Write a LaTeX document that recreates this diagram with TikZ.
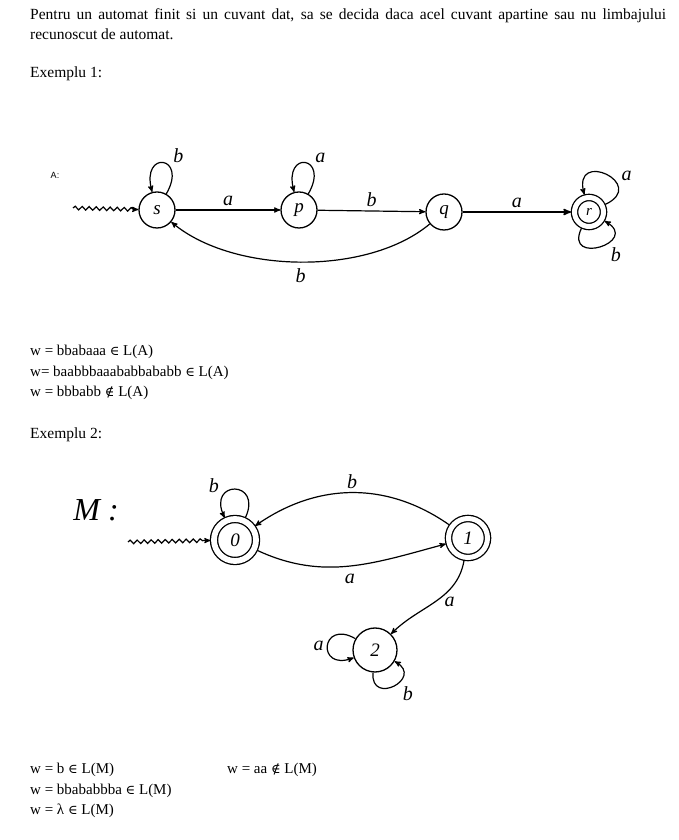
\documentclass[tikz,border=0pt]{standalone}
\usepackage{fontspec}
\setmainfont{Liberation Serif}
\newfontfamily\labelfont{Liberation Sans}
\newfontfamily\relfont{DejaVu Serif}
\usetikzlibrary{arrows}
\usetikzlibrary{decorations.pathmorphing}
\usetikzlibrary{positioning}
\tikzset{state/.style={circle,draw=black,line width=1.3pt,minimum size=36pt,inner sep=0pt,font=\fontsize{19}{19}\selectfont\itshape}}
\tikzset{final/.style={state,double,double distance=5pt,outer sep=3.5pt}}
\tikzset{trans/.style={->,>=stealth',line width=1.2pt}}
\tikzset{startarr/.style={->,>=stealth',line width=1.2pt,decorate,decoration={snake,amplitude=1.8pt,segment length=7pt,post length=5pt}}}
\tikzset{hand/.style={font=\fontsize{20}{20}\selectfont\itshape}}
\tikzset{txt/.style={anchor=base west,inner sep=0pt,font=\fontsize{15.5}{20}\selectfont}}
\tikzset{formula/.style={anchor=base west,inner sep=0pt,font=\fontsize{15}{20}\selectfont}}
\newcommand{\inL}{{\relfont\fontsize{13}{13}\selectfont ∈}}
\newcommand{\ninL}{{\relfont\fontsize{13}{13}\selectfont ∉}}

\begin{document}
\begin{tikzpicture}[x=1pt,y=1pt]
\useasboundingbox (0,0) rectangle (679,840);

\node[txt,anchor=north west,text width=636pt,align=justify] (intro) at (30,832)
  {Pentru un automat finit si un cuvant dat, sa se decida daca acel cuvant apartine sau nu limbajului \mbox{recunoscut} de automat.};
\node[txt] (ex1) at (30,762) {Exemplu 1:};

% automatul A
\node[font=\labelfont\small] (nA) at (55,665) {A:};
\node[state] (s) at (157,630) {s};
\node[state] (p) at (299,630) {p};
\node[state] (q) at (444,628) {q};
\node[final,minimum size=29pt,font=\fontsize{15}{15}\selectfont\itshape] (r) at (589,628) {r};

\coordinate (inA) at (73,632);
\draw[startarr] (inA) -- (s);
\draw[trans] (s) to[out=60,in=105,distance=44pt] node[hand,pos=0.35,above right] {b} (s);
\draw[trans] (s) -- node[hand,above] {a} (p);
\draw[trans] (p) to[out=60,in=105,distance=44pt] node[hand,pos=0.35,above right] {a} (p);
\draw[trans] (p) -- node[hand,above] {b} (q);
\draw[trans,line width=1.6pt] (q) -- node[hand,above] {a} (r);
\draw[trans] (r) to[out=25,in=105,distance=48pt] node[hand,pos=0.3,above right] {a} (r);
\draw[trans] (r) to[out=-115,in=-30,distance=42pt] node[hand,pos=0.6,below right] {b} (r);
\draw[trans] (q) to[out=-140,in=-40,looseness=0.8] node[hand,below=3pt] {b} (s);

\node[formula] (wA1) at (30,484) {w = bbabaaa \inL{} L(A)};
\node[formula] (wA2) at (30,463) {w= baabbbaaababbababb \inL{} L(A)};
\node[formula] (wA3) at (30,443) {w = bbbabb \ninL{} L(A)};
\node[txt] (ex2) at (30,401) {Exemplu 2:};

% automatul M
\node[font=\fontsize{32}{32}\selectfont\itshape] (nM) at (96,330) {M :};
\node[final,minimum size=42pt,double distance=5.8pt] (n0) at (235,300) {0};
\node[final,minimum size=39pt] (n1) at (468,302) {1};
\node[state,minimum size=44pt] (n2) at (375,190) {2};

\coordinate (inM) at (128,298);
\draw[startarr] (inM) -- (n0);
\draw[trans] (n0) to[out=65,in=115,distance=42pt] node[hand,pos=0.75,above left] {b} (n0);
\draw[trans] (n1) to[out=145,in=35] node[hand,above] {b} (n0);
\draw[trans] (n0) to[out=-25,in=-165] node[hand,below=4pt] {a} (n1);
\draw[trans] (n1) to[out=-100,in=45] node[hand,right=5pt] {a} (n2);
\draw[trans] (n2) to[out=150,in=-160,distance=40pt] node[hand,left] {a} (n2);
\draw[trans] (n2) to[out=-95,in=-30,distance=34pt] node[hand,pos=0.6,below right] {b} (n2);

\node[formula] (wM1) at (30,66) {w = b \inL{} L(M)};
\node[formula] (wM4) at (227,66) {w = aa \ninL{} L(M)};
\node[formula] (wM2) at (30,45) {w = bbababbba \inL{} L(M)};
\node[formula] (wM3) at (30,25) {w = λ \inL{} L(M)};
\end{tikzpicture}
\end{document}
